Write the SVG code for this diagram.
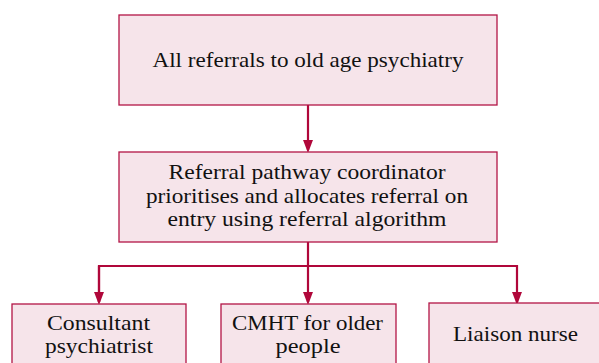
<svg xmlns="http://www.w3.org/2000/svg" width="599" height="363" viewBox="0 0 599 363">
<defs>
<style>
.box{fill:#f6e4ea;stroke:#b31446;stroke-width:1.3}
.t{font-family:"Liberation Serif","Times New Roman",serif;font-size:21.5px;fill:#111111;text-anchor:middle}
.c{fill:none;stroke:#b0073a;stroke-width:2.2}
</style>
<marker id="ah" markerWidth="13" markerHeight="17" refX="13" refY="6.5" orient="auto" markerUnits="userSpaceOnUse" viewBox="0 0 17 13">
<path d="M0,0 L17,6.5 L0,13 Z" fill="#b0073a"/>
</marker>
</defs>
<rect width="599" height="363" fill="#ffffff"/>
<g id="connectors">
<path class="c" d="M308,105 V150" marker-end="url(#ah)"/>
<path class="c" d="M308,242 V302" marker-end="url(#ah)"/>
<path class="c" d="M99,302 V266 H517 V302" marker-end="url(#ah)"/>
<path class="c" d="M99,266 V302" marker-end="url(#ah)"/>
</g>
<g id="node-all-referrals">
<rect class="box" x="119" y="15" width="378" height="90"/>
<text class="t" x="308" y="67" textLength="311" lengthAdjust="spacingAndGlyphs">All referrals to old age psychiatry</text>
</g>
<g id="node-coordinator">
<rect class="box" x="119" y="152" width="378" height="90"/>
<text class="t" x="307" y="179" textLength="277" lengthAdjust="spacingAndGlyphs">Referral pathway coordinator</text>
<text class="t" x="307" y="203" textLength="322" lengthAdjust="spacingAndGlyphs">prioritises and allocates referral on</text>
<text class="t" x="307" y="226" textLength="279" lengthAdjust="spacingAndGlyphs">entry using referral algorithm</text>
</g>
<g id="node-consultant">
<rect class="box" x="12" y="304" width="174" height="70"/>
<text class="t" x="98.5" y="330" textLength="103" lengthAdjust="spacingAndGlyphs">Consultant</text>
<text class="t" x="99" y="353" textLength="108" lengthAdjust="spacingAndGlyphs">psychiatrist</text>
</g>
<g id="node-cmht">
<rect class="box" x="221" y="304" width="175" height="70"/>
<text class="t" x="307.5" y="330" textLength="151" lengthAdjust="spacingAndGlyphs">CMHT for older</text>
<text class="t" x="308" y="353" textLength="65" lengthAdjust="spacingAndGlyphs">people</text>
</g>
<g id="node-liaison">
<rect class="box" x="429" y="303" width="180" height="70"/>
<text class="t" x="515.5" y="341" textLength="125" lengthAdjust="spacingAndGlyphs">Liaison nurse</text>
</g>
</svg>
